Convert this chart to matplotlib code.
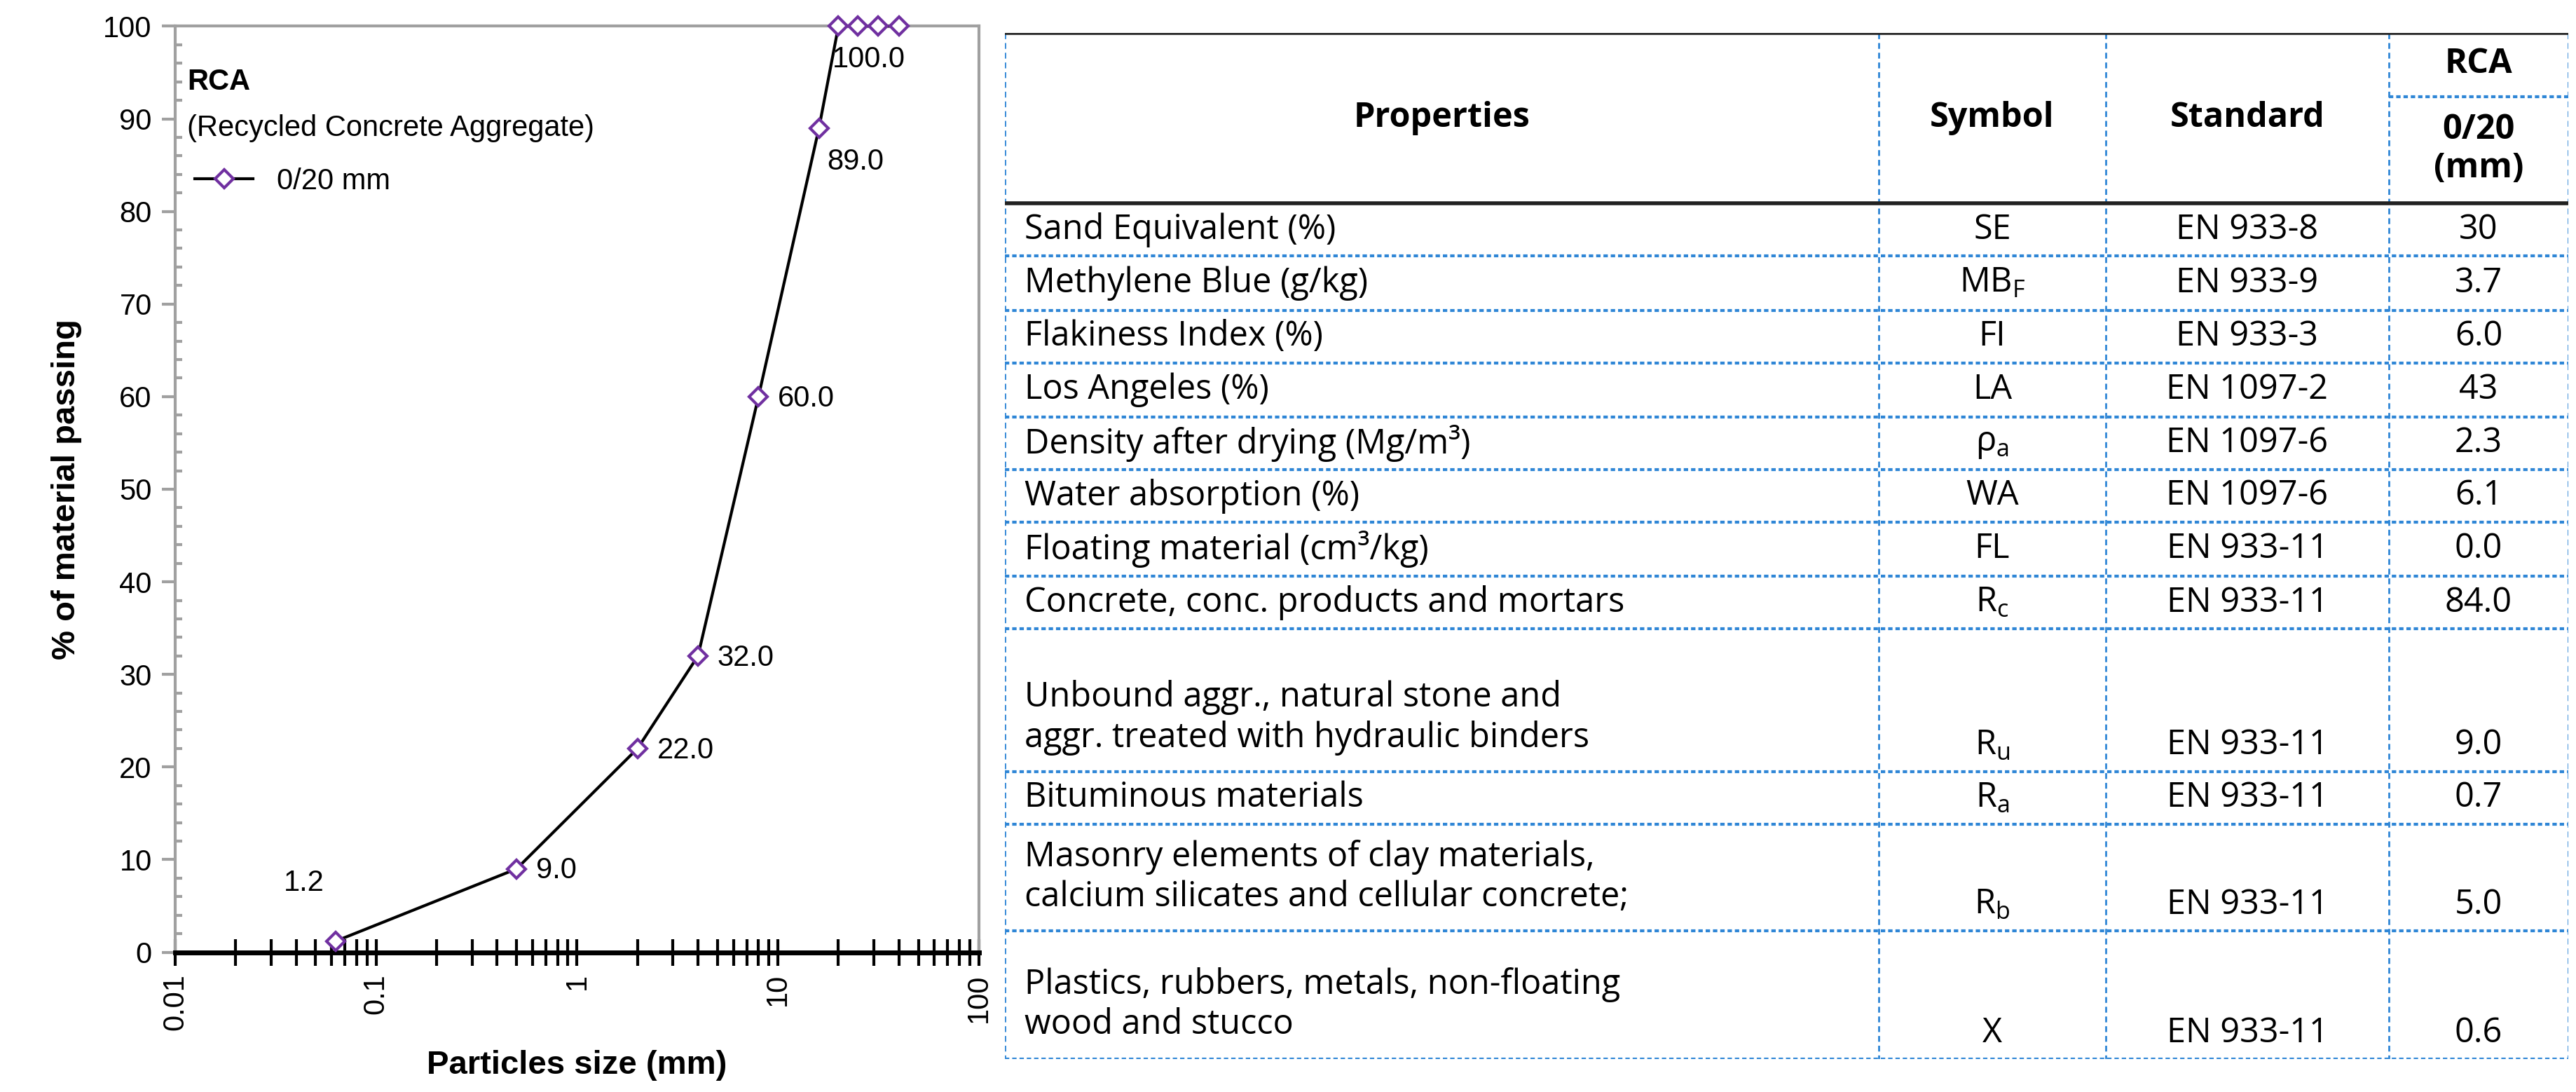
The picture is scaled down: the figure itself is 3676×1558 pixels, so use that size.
import matplotlib
matplotlib.use('Agg')
from matplotlib import pyplot as plt
from matplotlib.ticker import FixedLocator, NullFormatter, MultipleLocator
import numpy as np

# sieve curve data
sizes = [0.063, 0.5, 2, 4, 8, 16, 20, 25, 31.5, 40]
passing = [1.2, 9.0, 22.0, 32.0, 60.0, 89.0, 100.0, 100.0, 100.0, 100.0]
labelled = [0, 1, 2, 3, 4, 5, 6]

# table data
properties = ['Sand Equivalent (%)', 'Methylene Blue (g/kg)', 'Flakiness Index (%)',
              'Los Angeles (%)', 'Density after drying (Mg/m³)', 'Water absorption (%)',
              'Floating material (cm³/kg)', 'Concrete, conc. products and mortars',
              'Unbound aggr., natural stone and\naggr. treated with hydraulic binders',
              'Bituminous materials',
              'Masonry elements of clay materials,\ncalcium silicates and cellular concrete;',
              'Plastics, rubbers, metals, non-floating\nwood and stucco']
symbols = ['SE', r'MB$_\mathrm{F}$', 'FI', 'LA', r'ρ$_\mathrm{a}$', 'WA', 'FL',
           r'R$_\mathrm{c}$', r'R$_\mathrm{u}$', r'R$_\mathrm{a}$', r'R$_\mathrm{b}$', 'X']
standards = ['EN 933-8', 'EN 933-9', 'EN 933-3', 'EN 1097-2', 'EN 1097-6', 'EN 1097-6',
             'EN 933-11', 'EN 933-11', 'EN 933-11', 'EN 933-11', 'EN 933-11', 'EN 933-11']
rca_values = ['30', '3.7', '6.0', '43', '2.3', '6.1', '0.0', '84.0', '9.0', '0.7', '5.0', '0.6']

plt.rcParams['font.family'] = ['Liberation Sans', 'DejaVu Sans']
plt.rcParams['mathtext.fontset'] = 'custom'
plt.rcParams['mathtext.rm'] = 'Open Sans'
plt.rcParams['mathtext.it'] = 'Open Sans:italic'

fig = plt.figure(figsize=(36.76, 15.58), dpi=100)

# ---- grading curve ----
ax = fig.add_axes([0.068, 0.128, 0.312, 0.848])
ax.plot(sizes, passing, color='black', lw=3, marker='D', ms=13, mfc='white',
        mec='#7030A0', mew=3, zorder=3, label='0/20 mm', clip_on=False)
ax.set_xscale('log')
ax.set_xlim(0.01, 100)
ax.set_ylim(0, 100)
for i in labelled:
    if i == 0:
        ax.annotate('%.1f' % passing[i], (sizes[i], passing[i]), xytext=(-12, 45),
                    textcoords='offset points', fontsize=30, ha='right', va='bottom')
    elif i == 6:
        ax.annotate('%.1f' % passing[i], (sizes[i], passing[i]), xytext=(-6, -20),
                    textcoords='offset points', fontsize=30, ha='left', va='top')
    elif i == 5:
        ax.annotate('%.1f' % passing[i], (sizes[i], passing[i]), xytext=(8, -20),
                    textcoords='offset points', fontsize=30, ha='left', va='top')
    else:
        ax.annotate('%.1f' % passing[i], (sizes[i], passing[i]), xytext=(20, -2),
                    textcoords='offset points', fontsize=30, ha='left', va='center')

for s in ['left', 'top', 'right']:
    ax.spines[s].set_color('#A0A0A0')
    ax.spines[s].set_linewidth(3)
ax.spines['bottom'].set_color('black')
ax.spines['bottom'].set_linewidth(5)
ax.yaxis.set_major_locator(MultipleLocator(10))
ax.yaxis.set_minor_locator(MultipleLocator(2))
ax.tick_params(axis='y', which='major', direction='out', length=14, width=3,
               color='#A0A0A0', labelsize=30, pad=10)
ax.tick_params(axis='y', which='minor', direction='in', length=7, width=3, color='#A0A0A0')
ax.xaxis.set_major_locator(FixedLocator([0.01, 0.1, 1, 10, 100]))
ax.set_xticklabels(['0.01', '0.1', '1', '10', '100'], rotation=90)
minors = [m * 10.0 ** e for e in range(-2, 2) for m in range(2, 10)]
ax.xaxis.set_minor_locator(FixedLocator(minors))
ax.xaxis.set_minor_formatter(NullFormatter())
ax.tick_params(axis='x', which='both', direction='inout', length=28, width=3,
               color='black', labelsize=30, pad=8)
ax.set_xlabel('Particles size (mm)', fontsize=34, fontweight='bold', labelpad=20)
ax.set_ylabel('% of material passing', fontsize=34, fontweight='bold', labelpad=22)
ax.text(0.015, 0.955, 'RCA', transform=ax.transAxes, fontsize=30, fontweight='bold',
        va='top')
ax.text(0.015, 0.905, '(Recycled Concrete Aggregate)', transform=ax.transAxes,
        fontsize=30, va='top')
ax.legend(loc='upper left', bbox_to_anchor=(0.01, 0.86), frameon=False, fontsize=30,
          handlelength=2.0, borderaxespad=0)

# ---- properties table ----
tb = fig.add_axes([0.39, 0.03, 0.607, 0.94])
tb.set_xlim(612, 1562)
tb.set_ylim(645, 20)
tb.axis('off')
cols = [612, 1143, 1281, 1453, 1562]
row_edges = [124, 156, 189, 221, 254, 286, 318, 351, 383, 470, 502, 567, 645]
blue = '#2F86D6'
fs = 35
tfont = ['Open Sans', 'DejaVu Sans']

for c in cols:
    tb.plot([c, c], [20, 645], color=blue, lw=2, ls=(0, (3, 2)))
for r in row_edges[1:]:
    tb.plot([cols[0], cols[-1]], [r, r], color=blue, lw=3, ls=(0, (1.5, 1)))
tb.plot([cols[3], cols[4]], [59, 59], color=blue, lw=3, ls=(0, (1.5, 1)))
tb.plot([cols[0], cols[-1]], [20, 20], color='#222222', lw=4)
tb.plot([cols[0], cols[-1]], [124, 124], color='#222222', lw=4)

hy = 72
tb.text((cols[0] + cols[1]) / 2, hy, 'Properties', ha='center', va='center',
        fontsize=fs, fontweight='bold', family=tfont)
tb.text((cols[1] + cols[2]) / 2, hy, 'Symbol', ha='center', va='center',
        fontsize=fs, fontweight='bold', family=tfont)
tb.text((cols[2] + cols[3]) / 2, hy, 'Standard', ha='center', va='center',
        fontsize=fs, fontweight='bold', family=tfont)
tb.text((cols[3] + cols[4]) / 2, 39, 'RCA', ha='center', va='center',
        fontsize=fs, fontweight='bold', family=tfont)
tb.text((cols[3] + cols[4]) / 2, 91, '0/20\n(mm)', ha='center', va='center',
        fontsize=fs, fontweight='bold', family=tfont, linespacing=1.15)

for i in range(len(properties)):
    top, bot = row_edges[i], row_edges[i + 1]
    two = '\n' in properties[i]
    y = bot - 16 if two else (top + bot) / 2
    py = bot - 33 if two else (top + bot) / 2
    tb.text(cols[0] + 12, py, properties[i],
            ha='left', va='center', fontsize=fs, family=tfont, linespacing=1.2)
    tb.text((cols[1] + cols[2]) / 2, y, symbols[i], ha='center', va='center',
            fontsize=fs, family=tfont)
    tb.text((cols[2] + cols[3]) / 2, y, standards[i], ha='center', va='center',
            fontsize=fs, family=tfont)
    tb.text((cols[3] + cols[4]) / 2, y, rca_values[i], ha='center', va='center',
            fontsize=fs, family=tfont)

fig.savefig('out.png', dpi=100, facecolor='white')
